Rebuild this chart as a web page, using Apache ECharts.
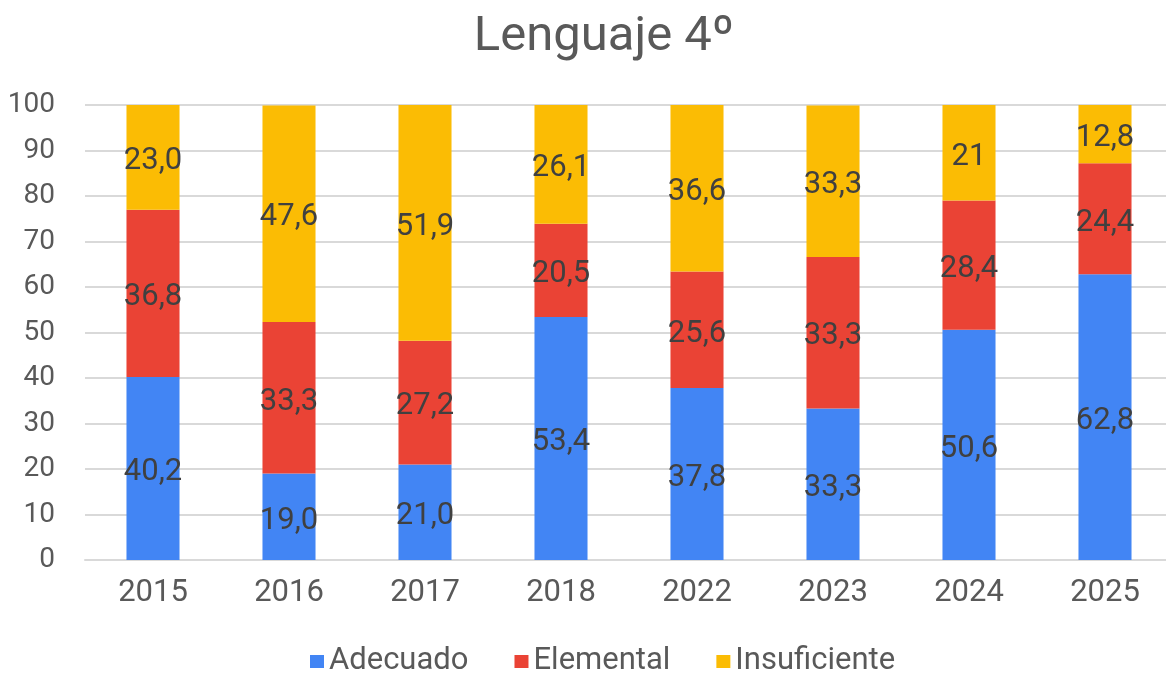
<!DOCTYPE html>
<html>
<head>
<meta charset="utf-8">
<script src="https://cdn.jsdelivr.net/npm/echarts@6/dist/echarts.min.js"></script>
<style>
  html, body { margin: 0; padding: 0; background: #fff; overflow: hidden; }
  /* el área de trazado del original sobrepasa el borde derecho */
  #chart { width: 1180px; height: 675px; }
</style>
</head>
<body>
<div id="chart"></div>
<script>
const years = ['2015', '2016', '2017', '2018', '2022', '2023', '2024', '2025'];
const adecuado = [40.2, 19.0, 21.0, 53.4, 37.8, 33.3, 50.6, 62.8];
const elemental = [36.8, 33.3, 27.2, 20.5, 25.6, 33.3, 28.4, 24.4];
const insuficiente = [23.0, 47.6, 51.9, 26.1, 36.6, 33.3, 21, 12.8];
// el gráfico original muestra "21" sin decimal en 2024
const insuficienteText = ['23,0', '47,6', '51,9', '26,1', '36,6', '33,3', '21', '12,8'];

const fmt = v => v.toFixed(1).replace('.', ',');

const labelStyle = {
  show: true,
  position: 'inside',
  offset: [0, 4],
  color: '#404040',
  fontSize: 31,
  fontFamily: 'Roboto'
};

function serie(name, data, color, formatter) {
  return {
    name: name,
    type: 'bar',
    stack: 'total',
    data: data,
    barWidth: '39%',
    itemStyle: { color: color },
    label: Object.assign({}, labelStyle, { formatter: formatter }),
    emphasis: { disabled: true }
  };
}

const chart = echarts.init(document.getElementById('chart'));
chart.setOption({
  animation: false,
  backgroundColor: '#fff',
  textStyle: { fontFamily: 'Roboto' },
  title: {
    text: 'Lenguaje 4º',
    left: 599,
    textAlign: 'center',
    top: 8,
    textStyle: { color: '#595959', fontSize: 49, fontWeight: 'normal', fontFamily: 'Roboto' }
  },
  legend: {
    data: ['Adecuado', 'Elemental', 'Insuficiente'],
    left: 305,
    top: 641,
    icon: 'rect',
    itemWidth: 14,
    itemHeight: 13,
    itemGap: 46,
    textStyle: { color: '#595959', fontSize: 31, fontFamily: 'Roboto' }
  },
  grid: { left: 85, width: 1088, top: 105, bottom: 115, containLabel: false },
  xAxis: {
    type: 'category',
    data: years,
    axisTick: { show: false },
    axisLine: { lineStyle: { color: '#d9d9d9', width: 2 } },
    axisLabel: { color: '#595959', fontSize: 31, margin: 18, fontFamily: 'Roboto' }
  },
  yAxis: {
    type: 'value',
    min: 0,
    max: 100,
    interval: 10,
    axisLine: { show: false },
    axisTick: { show: false },
    splitLine: { lineStyle: { color: '#d9d9d9', width: 2 } },
    axisLabel: { color: '#595959', fontSize: 28, margin: 30, fontFamily: 'Roboto' }
  },
  series: [
    serie('Adecuado', adecuado, '#4285F4', p => fmt(p.value)),
    serie('Elemental', elemental, '#EA4335', p => fmt(p.value)),
    serie('Insuficiente', insuficiente, '#FBBC04', p => insuficienteText[p.dataIndex])
  ]
});
</script>
</body>
</html>
